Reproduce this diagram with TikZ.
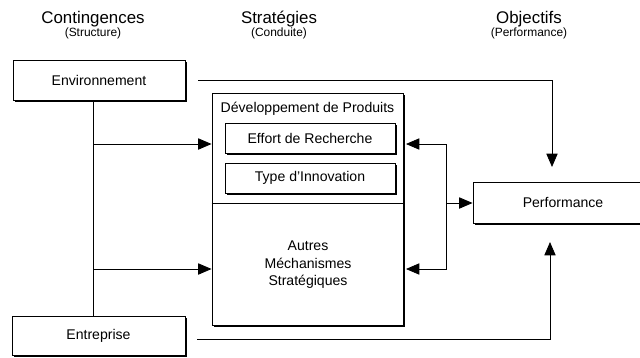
\documentclass[tikz,border=0pt]{standalone}
\usepackage{fontspec}
\setmainfont{Liberation Sans}
\usetikzlibrary{positioning}
\usetikzlibrary{shadows,arrows.meta}

\tikzset{
  boite/.style={draw,fill=white,line width=0.6pt,inner sep=0pt,
    font=\fontsize{10}{12}\selectfont,
    drop shadow={shadow xshift=1.4pt,shadow yshift=-1.4pt,opacity=1,fill=black}},
  titre/.style={font=\fontsize{12}{14}\selectfont},
  soustitre/.style={font=\fontsize{8.5}{10}\selectfont},
  fleche/.style={line width=0.6pt,-{Triangle[length=9.5pt,width=8pt]}},
  trait/.style={line width=0.6pt},
}

\begin{document}
\begin{tikzpicture}[x=0.025cm,y=-0.025cm]
\useasboundingbox (0,0) rectangle (640,357);
\clip (0,0) rectangle (640,357);

\node[titre] (cont) at (93,19) {Contingences};
\node[soustitre] (struct) at (93,33) {(Structure)};
\node[titre] (strat) at (279,19) {Stratégies};
\node[soustitre] (cond) at (279,33) {(Conduite)};
\node[titre] (obj) at (529,19) {Objectifs};
\node[soustitre] (perfo) at (529,33) {(Performance)};

\node[boite,minimum width=4.3cm,minimum height=1cm] (env) at (99,80) {Environnement};
\node[boite,minimum width=4.325cm,minimum height=0.975cm] (entr) at (98.5,335.5) {Entreprise};
\node[boite,minimum width=4.5cm,minimum height=1.025cm] (perf) at (563,202.5) {Performance};

\node[boite,minimum width=4.775cm,minimum height=5.8cm] (grand) at (307.5,209) {};
\node[font=\fontsize{10}{12}\selectfont,below=0.12cm of grand.north] (dev) {Développement de Produits};
\node[boite,minimum width=4.25cm,minimum height=0.75cm] (effort) at (310,138.5) {Effort de Recherche};
\node[boite,minimum width=4.25cm,minimum height=0.75cm] (type) at (310,178) {Type d'Innovation};
\draw[trait] (grand.west |- 0,203) -- (grand.east |- 0,203);
\node[font=\fontsize{10}{12.5}\selectfont,align=center] (autres) at (308,265) {Autres\\Méchanismes\\Stratégiques};

\coordinate (axe) at (93,0);
\coordinate (boucle) at (446,0);
\coordinate (haut) at (0,144);
\coordinate (milieu) at (0,203);
\coordinate (bas) at (0,269);
\coordinate (cible1) at (552,167);
\coordinate (cible2) at (550,242);

\draw[trait] (env.south -| axe) -- (entr.north -| axe);
\draw[fleche] (axe |- haut) -- (grand.west |- haut);
\draw[fleche] (axe |- bas) -- (grand.west |- bas);

\draw[fleche] (boucle |- haut) -- ([xshift=1.8pt]grand.east |- haut);
\draw[fleche] (boucle |- haut) -- (boucle |- bas) -- ([xshift=1.8pt]grand.east |- bas);
\draw[fleche] (boucle |- milieu) -- (perf.west |- milieu);

\draw[fleche] ([xshift=0.325cm]env.east) -| (cible1);
\draw[fleche] ([xshift=0.3cm,yshift=-0.1cm]entr.east) -| (cible2);

\end{tikzpicture}
\end{document}
